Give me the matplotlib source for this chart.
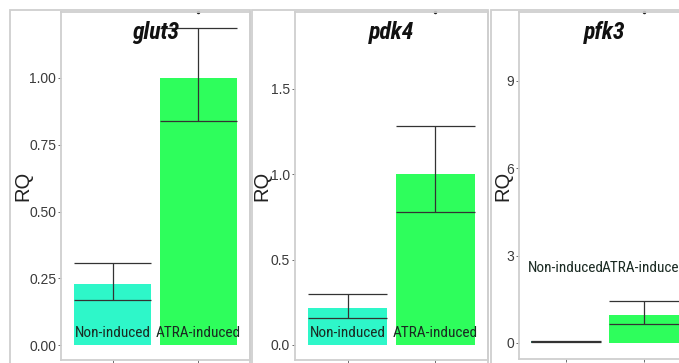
import numpy as np
import matplotlib
matplotlib.use("Agg")
import matplotlib.pyplot as plt
from matplotlib.patches import Rectangle
from matplotlib import font_manager as fm

# data
genes = ["glut3", "pdk4", "pfk3"]
groups = ["Non-induced", "ATRA-induced"]
rq = [[0.228, 1.0], [0.217, 1.0], [0.06, 0.97]]
err_low = [[0.168, 0.839], [0.158, 0.779], [0.04, 0.66]]
err_high = [[0.307, 1.187], [0.299, 1.283], [0.08, 1.45]]
yticks = [[0.0, 0.25, 0.5, 0.75, 1.0], [0.0, 0.5, 1.0, 1.5], [0, 3, 6, 9]]
ytick_labels = [["0.00", "0.25", "0.50", "0.75", "1.00"],
                ["0.0", "0.5", "1.0", "1.5"],
                ["0", "3", "6", "9"]]
ylims = [(-0.056, 1.247), (-0.088, 1.95), (-0.55, 11.37)]
label_y = [0.045, 0.07, 2.58]

bar_cols = [["#2ef7c9", "#2efe5c"], ["#2ef7c9", "#2efe5c"], ["#2a8a70", "#2efe5c"]]

W, H = 679, 363
fig = plt.figure(figsize=(W / 100, H / 100), dpi=100)

# axes boxes in pixels: left, right, top, bottom
boxes = [(61, 250, 12, 360), (295, 488, 12, 360), (519, 691, 12, 359)]
# outer panel borders: left, right
outer = [(10, 250), (252, 488), (491, 760)]
ylab_x = [-0.153, -0.12, -0.04]

# look for a narrow face for the in-bar labels and titles
names = {f.name for f in fm.fontManager.ttflist}
narrow = "DejaVu Sans"
for cand in ["Liberation Sans Narrow", "Roboto Condensed", "Open Sans Condensed"]:
    if cand in names:
        narrow = cand
        break
stretch = "condensed" if narrow == "DejaVu Sans" else "normal"

border = "#cfcfcf"

for l, r in outer:
    fig.patches.append(Rectangle((l / W, -0.1), (r - l) / W, 1.1 - 10 / H,
                                 transform=fig.transFigure, fill=False,
                                 edgecolor=border, lw=1.3))

for i, gene in enumerate(genes):
    l, r, t, b = boxes[i]
    ax = fig.add_axes([l / W, 1 - b / H, (r - l) / W, (b - t) / H])
    x = np.arange(1, 3)
    ax.bar(x, rq[i], width=0.9, color=bar_cols[i], zorder=2)
    for j in range(2):
        ax.vlines(x[j], err_low[i][j], err_high[i][j], color="#333333", lw=0.9, zorder=3)
        ax.hlines([err_low[i][j], err_high[i][j]], x[j] - 0.45, x[j] + 0.45,
                  color="#333333", lw=0.9, zorder=3)
        ax.text(x[j], label_y[i], groups[j], ha="center", va="center",
                family=narrow, fontstretch=stretch, fontsize=11, color="#1a2a22", zorder=4)
    ax.set_xlim(0.4, 2.6)
    ax.set_ylim(*ylims[i])
    ax.set_xticks(x)
    ax.set_xticklabels([])
    ax.set_yticks(yticks[i])
    ax.set_yticklabels(ytick_labels[i], family="Liberation Sans", fontsize=10, color="#3a3a3a")
    ax.tick_params(length=2.5, width=0.6, color="#555555", pad=1)
    for s in ax.spines.values():
        s.set_color(border)
        s.set_linewidth(1.3)
    ax.set_ylabel("RQ", family="Liberation Sans", fontsize=14.5, color="#222222")
    ax.yaxis.set_label_coords(ylab_x[i], 0.5)
    ax.text(0.5, 0.94, gene, transform=ax.transAxes, ha="center", va="center",
            family=narrow, fontstretch=stretch, fontsize=17, fontweight="bold",
            fontstyle="italic", color="#111111")
    ax.plot([2], [ylims[i][1]], marker="o", ms=1.5, color="#222222", clip_on=False)

fig.savefig("out.png", dpi=100)
